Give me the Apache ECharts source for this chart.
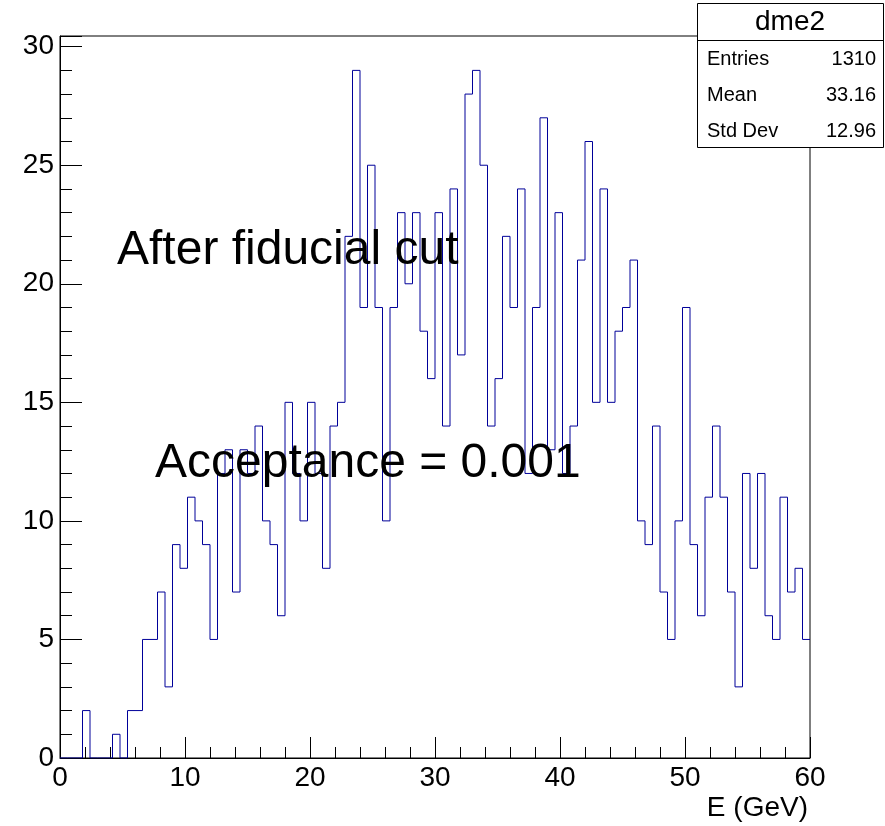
<!DOCTYPE html>
<html>
<head>
<meta charset="utf-8">
<script src="https://cdn.jsdelivr.net/npm/echarts@6/dist/echarts.min.js"></script>
<style>
html,body{margin:0;padding:0;background:#fff;}
#chart{width:885px;height:826px;}
</style>
</head>
<body>
<div id="chart"></div>
<script>
// Histogram definition
const xMin = 0;
const xMax = 60;
const nBins = 100;
const yMax = 30.45;
const counts = [
  0, 0, 0, 2, 0, 0, 0, 1, 0, 2,
  2, 5, 5, 7, 3, 9, 8, 11, 10, 9,
  5, 12, 13, 7, 13, 12, 14, 10, 9, 6,
  15, 12, 10, 15, 12, 8, 14, 15, 22, 29,
  19, 25, 19, 10, 19, 23, 20, 23, 18, 16,
  23, 14, 24, 17, 28, 29, 25, 14, 16, 22,
  19, 24, 12, 19, 27, 13, 23, 12, 14, 21,
  26, 15, 24, 15, 18, 19, 21, 10, 9, 14,
  7, 5, 10, 19, 9, 6, 11, 14, 11, 7,
  3, 12, 8, 12, 6, 5, 11, 7, 8, 5
];
const histName = "dme2";
const statLabels = ["Entries", "Mean", "Std Dev"];
const statValues = ["1310", "33.16", "12.96"];
const xTitle = "E (GeV)";
const note1 = "After fiducial cut";
const note2 = "Acceptance = 0.001";

const binWidth = (xMax - xMin) / nBins;
const stepData = counts.map((c, i) => [xMin + i * binWidth, c]);
stepData.push([xMax, counts[counts.length - 1]]);

const FONT = "'Liberation Sans', Arial, Helvetica, sans-serif";

const chart = echarts.init(document.getElementById('chart'), null, {renderer: 'canvas'});

const statRows = [];
const rowY = [59, 95, 131];
statLabels.forEach((lab, i) => {
  statRows.push({
    type: 'text', x: 707, y: rowY[i], z: 21,
    style: {text: lab, font: '20px ' + FONT, fill: '#000', textAlign: 'left', textVerticalAlign: 'middle'}
  });
  statRows.push({
    type: 'text', x: 876, y: rowY[i], z: 21,
    style: {text: statValues[i], font: '20px ' + FONT, fill: '#000', textAlign: 'right', textVerticalAlign: 'middle'}
  });
});

chart.setOption({
  animation: false,
  backgroundColor: '#fff',
  grid: {left: 60, right: 75, top: 36, bottom: 68, show: true, borderColor: '#000', borderWidth: 1, backgroundColor: 'transparent'},
  xAxis: {
    type: 'value', min: xMin, max: xMax, interval: 10,
    axisLine: {show: true, onZero: false, lineStyle: {color: '#000', width: 1}},
    axisTick: {show: true, inside: true, length: 21, lineStyle: {color: '#000'}},
    minorTick: {show: true, splitNumber: 5, length: 11, lineStyle: {color: '#000'}},
    splitLine: {show: false},
    axisLabel: {color: '#000', fontSize: 28, fontFamily: FONT, margin: 6}
  },
  yAxis: [{
    type: 'value', min: 0, max: yMax, interval: 5,
    axisLine: {show: true, onZero: false, lineStyle: {color: '#000', width: 1}},
    axisTick: {show: true, inside: true, length: 22, lineStyle: {color: '#000'}},
    splitLine: {show: false},
    axisLabel: {color: '#000', fontSize: 28, fontFamily: FONT, margin: 6,
      formatter: v => (Math.abs(v % 5) < 1e-9 ? String(v) : '')}
  }, {
    type: 'value', min: 0, max: yMax, interval: 1, position: 'left',
    axisLine: {show: false},
    axisTick: {show: true, inside: true, length: 12, lineStyle: {color: '#000'}},
    splitLine: {show: false},
    axisLabel: {show: false}
  }],
  series: [{
    type: 'line', step: 'end', data: stepData, yAxisIndex: 0,
    symbol: 'none', showSymbol: false,
    lineStyle: {color: '#000099', width: 1},
    z: 3
  }],
  graphic: [
    {type: 'text', x: 117, y: 251, z: 10,
      style: {text: note1, font: '48px ' + FONT, fill: '#000', textAlign: 'left', textVerticalAlign: 'middle'}},
    {type: 'text', x: 155, y: 464, z: 10,
      style: {text: note2, font: '48px ' + FONT, fill: '#000', textAlign: 'left', textVerticalAlign: 'middle'}},
    {type: 'text', x: 808, y: 808, z: 10,
      style: {text: xTitle, font: '28px ' + FONT, fill: '#000', textAlign: 'right', textVerticalAlign: 'middle'}},
    {type: 'rect', shape: {x: 697.5, y: 3.5, width: 186, height: 144}, z: 20,
      style: {fill: '#fff', stroke: '#000', lineWidth: 1}},
    {type: 'line', shape: {x1: 697.5, y1: 40.5, x2: 883.5, y2: 40.5}, z: 21,
      style: {stroke: '#000', lineWidth: 1}},
    {type: 'text', x: 790, y: 22, z: 21,
      style: {text: histName, font: '28px ' + FONT, fill: '#000', textAlign: 'center', textVerticalAlign: 'middle'}},
    ...statRows
  ]
});
</script>
</body>
</html>
